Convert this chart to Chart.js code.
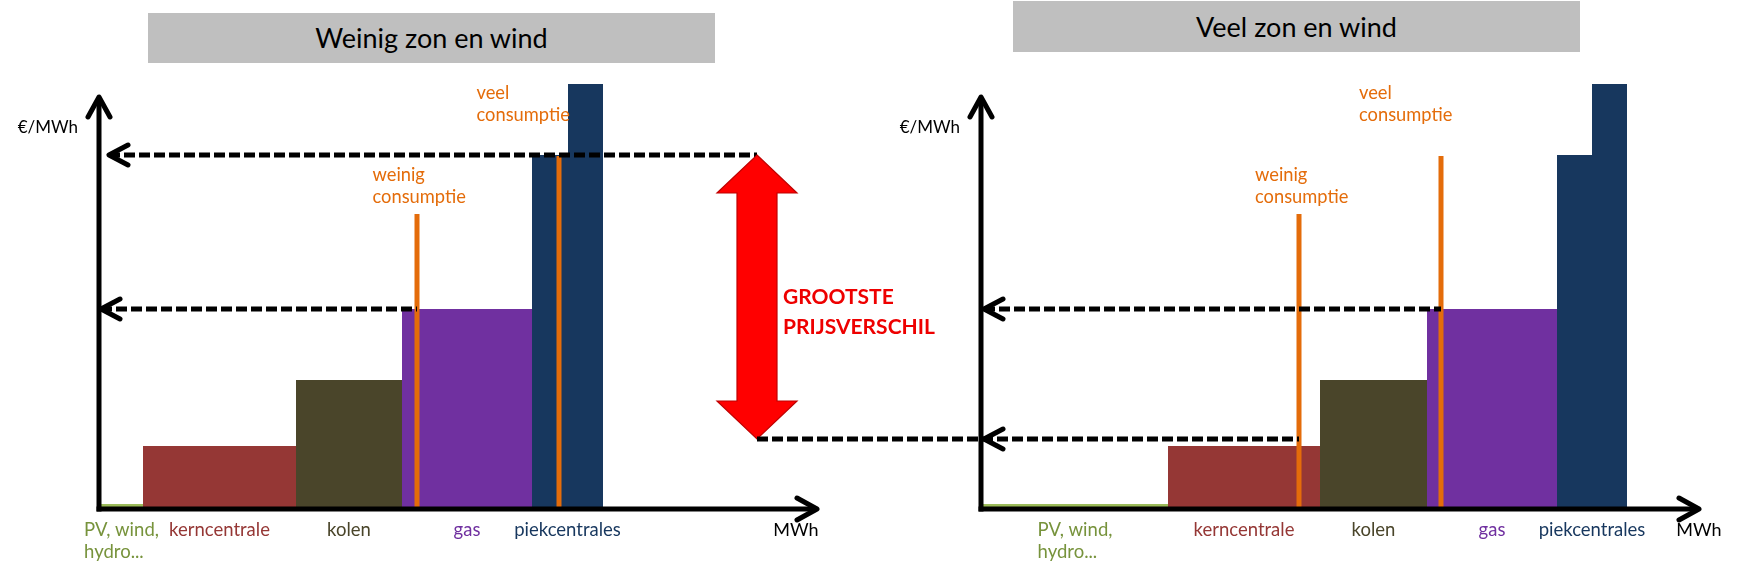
<!DOCTYPE html>
<html><head><meta charset="utf-8">
<script src="https://cdn.jsdelivr.net/npm/chart.js@4.4.1/dist/chart.umd.min.js"></script>
<style>
html,body{margin:0;padding:0;background:#fff;width:1738px;height:571px;overflow:hidden;font-family:Lato,sans-serif}
canvas{position:absolute;left:0;top:0}
.title{position:absolute;background:#BFBFBF;color:#000;text-align:center;font-size:27px;font-family:Lato,sans-serif}
</style></head><body>
<div class="title" style="left:148px;top:13px;width:567px;height:50px;line-height:50px">Weinig zon en wind</div>
<div class="title" style="left:1013px;top:1px;width:567px;height:51px;line-height:51px">Veel zon en wind</div>
<canvas id="left" width="1738" height="571"></canvas>
<canvas id="right" width="1738" height="571"></canvas>
<script>
// ---- data ----
const techLabels = [['PV, wind,', 'hydro...'], ['kerncentrale'], ['kolen'], ['gas'], ['piekcentrales']];
const stepTech = [0, 1, 2, 3, 4, 4];                 // merit-order steps -> technology
const stepPrice = [1, 12.6, 25.8, 40, 70.8, 85];     // €/MWh (relative units)
const capWeinigZon = [4.3, 15.3, 10.6, 13.0, 3.6, 3.5]; // MWh (relative units)
const capVeelZon = [18.6, 15.2, 10.7, 13.0, 3.5, 3.5];
const demand = [31.7, 45.9];          // weinig / veel consumptie
const demandLineTop = [59, 70.6];
const clearingWeinigZon = [40, 70.8]; // price at weinig / veel consumptie
const clearingVeelZon = [14, 40];
const demandLabels = [['weinig', 'consumptie'], ['veel', 'consumptie']];

// ---- styles ----
const techColors = ['#9BBB59', '#953735', '#4A452A', '#7030A0', '#17375E'];
const techTextColors = ['#77933C', '#953735', '#4A452A', '#7030A0', '#17375E'];
const orange = '#E46C0A';
const FONT = 'Lato, sans-serif';

function cumulative(caps) {
  const b = [0];
  caps.forEach(c => b.push(+(b[b.length - 1] + c).toFixed(3)));
  return b;
}

function chevron(ctx, tx, ty, dx, dy, len, half, w) {
  const bx = tx - dx * len, by = ty - dy * len;
  const px = -dy, py = dx;
  ctx.save();
  ctx.setLineDash([]);
  ctx.strokeStyle = '#000';
  ctx.lineWidth = w; ctx.lineCap = 'round'; ctx.lineJoin = 'round';
  ctx.beginPath();
  ctx.moveTo(bx + px * half, by + py * half);
  ctx.lineTo(tx, ty);
  ctx.lineTo(bx - px * half, by - py * half);
  ctx.stroke();
  ctx.restore();
}

const decor = {
  id: 'decor',
  afterDatasetsDraw(chart, args, o) {
    const { ctx, scales: { x, y } } = chart;
    const X = v => x.getPixelForValue(v), Y = v => y.getPixelForValue(v);
    ctx.save();
    const ox = X(0) - 1, oy = Y(0);
    // axes
    ctx.strokeStyle = '#000'; ctx.lineWidth = 5; ctx.lineCap = 'butt';
    ctx.beginPath(); ctx.moveTo(ox, oy + 2.5); ctx.lineTo(ox, Y(o.axisTop) + 3); ctx.stroke();
    ctx.beginPath(); ctx.moveTo(ox - 2.5, oy); ctx.lineTo(X(o.axisRight) - 3, oy); ctx.stroke();
    chevron(ctx, ox, Y(o.axisTop), 0, -1, 20, 11, 5);
    chevron(ctx, X(o.axisRight), oy, 1, 0, 20, 11, 5);
    // chevrons on dashed lines
    o.dashed.forEach(d => chevron(ctx, X(d.head), Y(d.price), -1, 0, 19, 10, 5));
    // axis titles
    ctx.fillStyle = '#000';
    ctx.font = '17px ' + FONT;
    ctx.textBaseline = 'middle';
    ctx.textAlign = 'right';
    ctx.fillText('€/MWh', ox - 21, Y(o.axisTop) + 31);
    ctx.textAlign = 'center';
    ctx.font = '18px ' + FONT;
    ctx.fillText('MWh', X(o.axisRight) + o.mwhDx, oy + 21);
    // category labels
    ctx.textAlign = 'left';
    ctx.font = '18.5px ' + FONT;
    techLabels.forEach((lines, t) => {
      const idx = stepTech.map((s, i) => s === t ? i : -1).filter(i => i >= 0);
      const x0 = X(o.bounds[idx[0]]), x1 = X(o.bounds[idx[idx.length - 1] + 1]);
      const w = Math.max(...lines.map(l => ctx.measureText(l).width));
      const lx = (x0 + x1) / 2 - w / 2;
      ctx.fillStyle = techTextColors[t];
      lines.forEach((l, k) => ctx.fillText(l, lx, oy + 21 + k * 22));
    });
    // demand labels
    ctx.fillStyle = orange;
    ctx.font = '18.3px ' + FONT;
    demandLabels.forEach((lines, k) => {
      const p = o.demandLabelAt[k];
      lines.forEach((l, j) => ctx.fillText(l, X(demand[k]) + p.dx, Y(p.v) + j * 22));
    });
    // red double arrow
    if (o.redArrow) {
      const a = o.redArrow;
      const cx = X(a.x), yt = Y(a.high), yb = Y(a.low);
      const hh = 40, sh = 20, hl = 38;
      ctx.beginPath();
      ctx.moveTo(cx, yt);
      ctx.lineTo(cx + hh, yt + hl); ctx.lineTo(cx + sh, yt + hl);
      ctx.lineTo(cx + sh, yb - hl); ctx.lineTo(cx + hh, yb - hl);
      ctx.lineTo(cx, yb);
      ctx.lineTo(cx - hh, yb - hl); ctx.lineTo(cx - sh, yb - hl);
      ctx.lineTo(cx - sh, yt + hl); ctx.lineTo(cx - hh, yt + hl);
      ctx.closePath();
      ctx.fillStyle = '#FF0000'; ctx.fill();
      ctx.strokeStyle = '#C00000'; ctx.lineWidth = 1.2; ctx.lineJoin = 'miter'; ctx.stroke();
      ctx.fillStyle = '#EE0000';
      ctx.font = 'bold 21px ' + FONT;
      ctx.textAlign = 'left';
      const mid = (yt + yb) / 2;
      ctx.fillText('GROOTSTE', cx + 26, mid);
      ctx.fillText('PRIJSVERSCHIL', cx + 26, mid + 30);
    }
    ctx.restore();
  }
};

function panel(id, caps, clearing, dashed, pad, extra) {
  const bounds = cumulative(caps);
  const datasets = [];
  dashed.forEach(d => datasets.push({
    data: [{ x: d.from, y: d.price }, { x: d.to, y: d.price }],
    borderColor: '#000', borderWidth: 5, borderDash: [11, 4], borderCapStyle: 'butt',
    pointRadius: 0, fill: false, clip: false, order: 0
  }));
  demand.forEach((d, k) => datasets.push({
    data: [{ x: d, y: 0 }, { x: d, y: demandLineTop[k] }],
    borderColor: orange, borderWidth: 5, pointRadius: 0, fill: false, clip: false, order: 1
  }));
  caps.forEach((c, i) => datasets.push({
    data: [{ x: bounds[i], y: stepPrice[i] }, { x: bounds[i + 1], y: stepPrice[i] }],
    borderWidth: 0, borderColor: 'rgba(0,0,0,0)', backgroundColor: techColors[stepTech[i]],
    pointRadius: 0, fill: 'origin', clip: false, order: 2
  }));
  return new Chart(document.getElementById(id), {
    type: 'line',
    data: { datasets },
    plugins: [decor],
    options: {
      responsive: false, animation: false, events: [],
      layout: { padding: pad },
      scales: {
        x: { type: 'linear', min: 0, max: 71.7, display: false },
        y: { type: 'linear', min: 0, max: 85, display: false }
      },
      plugins: {
        legend: { display: false }, tooltip: { enabled: false },
        decor: Object.assign({ axisTop: 82.4, axisRight: 71.7, bounds, dashed }, extra)
      }
    }
  });
}

const arrowX = 65.7;
panel('left', capWeinigZon, clearingWeinigZon,
  [{ price: clearingWeinigZon[1], from: 0.9, to: arrowX, head: 0.9 },
   { price: clearingWeinigZon[0], from: 0.1, to: demand[0], head: 0.1 }],
  { left: 100, right: 921, top: 84, bottom: 62 },
  { mwhDx: -21,
    demandLabelAt: [{ dx: -44.5, v: 66.8 }, { dx: -82.5, v: 83.2 }],
    redArrow: { x: arrowX, high: clearingWeinigZon[1], low: clearingVeelZon[0] } });

panel('right', capVeelZon, clearingVeelZon,
  [{ price: clearingVeelZon[1], from: 0.2, to: demand[1], head: 0.2 },
   { price: clearingVeelZon[0], from: -22.5, to: demand[0], head: 0.2 }],
  { left: 982, right: 39, top: 84, bottom: 62 },
  { mwhDx: 0,
    demandLabelAt: [{ dx: -44, v: 66.8 }, { dx: -82, v: 83.2 }],
    redArrow: null });
</script>
</body></html>
